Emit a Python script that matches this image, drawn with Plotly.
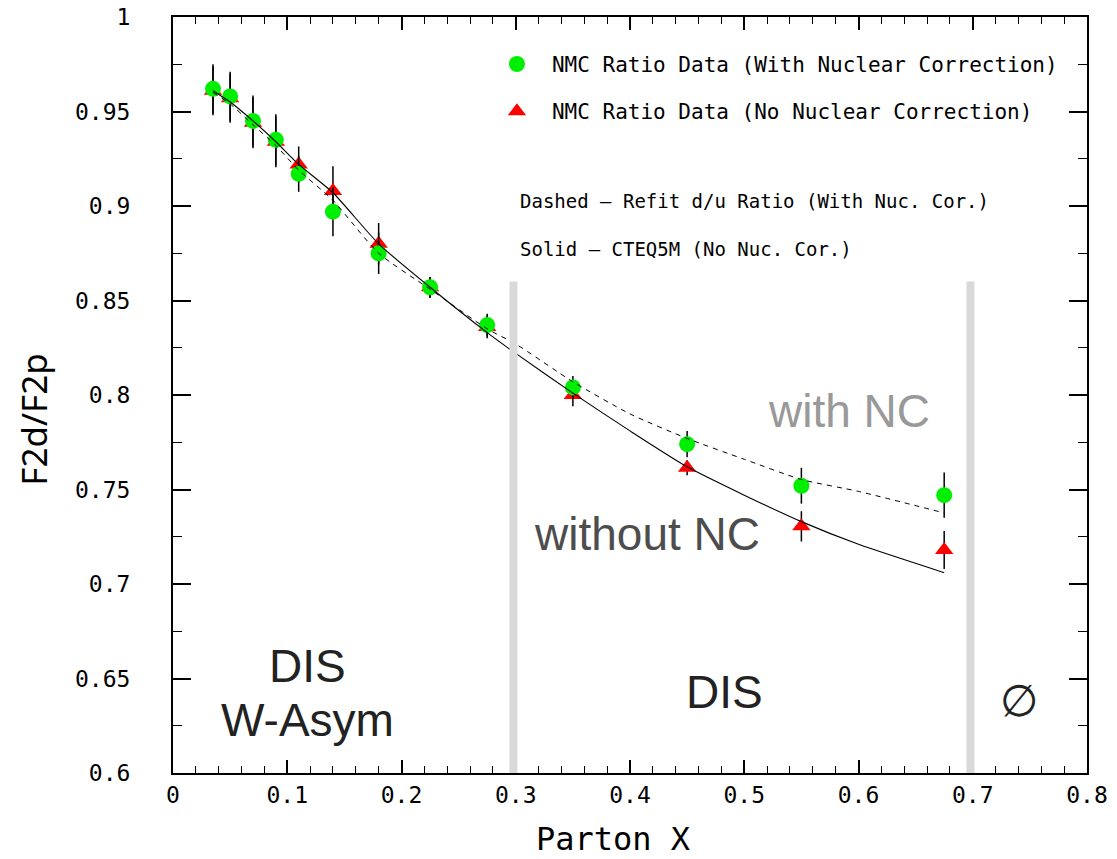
import plotly.graph_objects as go

# NMC F2d/F2p ratio measurements
x_data = [0.035, 0.05, 0.07, 0.09, 0.11, 0.14, 0.18, 0.225, 0.275, 0.35, 0.45, 0.55, 0.675]
ratio_with_nc = [0.962, 0.958, 0.945, 0.935, 0.917, 0.897, 0.875, 0.857, 0.837, 0.804, 0.774, 0.752, 0.747]
err_with_nc = [0.013, 0.013, 0.0135, 0.0135, 0.0095, 0.013, 0.011, 0.0055, 0.006, 0.006, 0.007, 0.0095, 0.012]
ratio_no_nc = [0.961, 0.957, 0.944, 0.934, 0.922, 0.908, 0.880, 0.857, 0.836, 0.800, 0.7615, 0.7305, 0.718]
err_no_nc = [0.013, 0.013, 0.0135, 0.0135, 0.0095, 0.013, 0.011, 0.0055, 0.006, 0.006, 0.004, 0.008, 0.010]

# Theory curves
x_curve = [0.035, 0.05, 0.07, 0.09, 0.11, 0.14, 0.18, 0.225, 0.275, 0.30, 0.35, 0.40, 0.45, 0.50, 0.55, 0.60, 0.675]
refit_du = [0.960, 0.954, 0.943, 0.932, 0.919, 0.903, 0.875, 0.856, 0.835, 0.827, 0.807, 0.790, 0.777, 0.766, 0.7553, 0.749, 0.7376]
cteq5m = [0.961, 0.955, 0.945, 0.934, 0.922, 0.907, 0.880, 0.857, 0.833, 0.822, 0.801, 0.781, 0.762, 0.747, 0.733, 0.721, 0.706]

# Kinematic region boundaries
region_edges = [0.298, 0.698]
region_top = 0.86

x_ticks = [0, 0.1, 0.2, 0.3, 0.4, 0.5, 0.6, 0.7, 0.8]
x_ticklabels = ["0", "0.1", "0.2", "0.3", "0.4", "0.5", "0.6", "0.7", "0.8"]
x_minor = [round(i * 0.02, 3) for i in range(41)]
y_ticks = [0.6, 0.65, 0.7, 0.75, 0.8, 0.85, 0.9, 0.95, 1.0]
y_ticklabels = ["0.6", "0.65", "0.7", "0.75", "0.8", "0.85", "0.9", "0.95", "1"]
y_minor = [round(0.6 + i * 0.025, 4) for i in range(17)]

GREEN = "#00ee00"
RED = "#ff0000"
MONO = "DejaVu Sans Mono"
BIG_FONT = "Liberation Sans, Arial, sans-serif"

fig = go.Figure()

# Data points (triangles underneath, circles on top)
fig.add_trace(go.Scatter(
    x=x_data, y=ratio_no_nc, mode="markers", showlegend=False,
    marker=dict(symbol="triangle-up", size=16, color=RED, line=dict(width=0)),
    error_y=dict(type="data", array=err_no_nc, color="black", thickness=1.5, width=0),
))
fig.add_trace(go.Scatter(
    x=x_data, y=ratio_with_nc, mode="markers", showlegend=False,
    marker=dict(symbol="circle", size=16, color=GREEN, line=dict(width=0)),
    error_y=dict(type="data", array=err_with_nc, color="black", thickness=1.5, width=0),
))

# Curves
fig.add_trace(go.Scatter(
    x=x_curve, y=refit_du, mode="lines", showlegend=False,
    line=dict(color="black", width=1, dash="5px,5px", shape="spline", smoothing=0.6),
))
fig.add_trace(go.Scatter(
    x=x_curve, y=cteq5m, mode="lines", showlegend=False,
    line=dict(color="black", width=1.1, shape="spline", smoothing=0.6),
))

# Legend entries
fig.add_trace(go.Scatter(
    x=[None], y=[None], mode="markers", name="NMC Ratio Data (With Nuclear Correction)",
    legendgroup="a", marker=dict(symbol="circle", size=16, color=GREEN),
))
fig.add_trace(go.Scatter(
    x=[None], y=[None], mode="markers", name="NMC Ratio Data (No Nuclear Correction)",
    legendgroup="b", marker=dict(symbol="triangle-up", size=16, color=RED),
))

# Region separators
half_w = 0.0035
for xe in region_edges:
    fig.add_shape(type="rect", xref="x", yref="y",
                  x0=xe - half_w, x1=xe + half_w, y0=0.6, y1=region_top,
                  fillcolor="#d9d9d9", line=dict(width=0), layer="above")

annotations = [
    dict(x=0.302, y=0.9029, text="Dashed – Refit d/u Ratio (With Nuc. Cor.)",
         xanchor="left", yanchor="middle", font=dict(family=MONO, size=19, color="black")),
    dict(x=0.302, y=0.8775, text="Solid – CTEQ5M (No Nuc. Cor.)",
         xanchor="left", yanchor="middle", font=dict(family=MONO, size=19, color="black")),
    dict(x=0.592, y=0.7913, text="with NC", xanchor="center", yanchor="middle",
         font=dict(family=BIG_FONT, size=46, color="#999999")),
    dict(x=0.4153, y=0.7262, text="without NC", xanchor="center", yanchor="middle",
         font=dict(family=BIG_FONT, size=46, color="#4d4d4d")),
    dict(x=0.118, y=0.6566, text="DIS", xanchor="center", yanchor="middle",
         font=dict(family=BIG_FONT, size=46, color="#222222")),
    dict(x=0.118, y=0.628, text="W-Asym", xanchor="center", yanchor="middle",
         font=dict(family=BIG_FONT, size=46, color="#222222")),
    dict(x=0.483, y=0.643, text="DIS", xanchor="center", yanchor="middle",
         font=dict(family=BIG_FONT, size=46, color="#222222")),
    dict(x=0.7405, y=0.6383, text="∅", xanchor="center", yanchor="middle",
         font=dict(family="DejaVu Sans", size=44, color="#222222")),
    # Axis titles
    dict(xref="paper", yref="paper", x=0.4814, y=-0.0875, text="Parton X",
         xanchor="center", yanchor="middle", font=dict(family=MONO, size=32, color="black")),
    dict(xref="paper", yref="paper", x=-0.153, y=0.4675, text="F2d/F2p", textangle=-90,
         xanchor="center", yanchor="middle", font=dict(family="Noto Sans", size=35, color="black")),
]
for a in annotations:
    a.setdefault("xref", "x")
    a.setdefault("yref", "y")
    a["showarrow"] = False

fig.update_layout(
    width=1117, height=859,
    margin=dict(l=173, r=30, t=17, b=86, autoexpand=False),
    paper_bgcolor="white", plot_bgcolor="white",
    annotations=annotations,
    legend=dict(x=0.338, y=0.9645, xanchor="left", yanchor="top",
                font=dict(family=MONO, size=21, color="black"),
                bgcolor="rgba(0,0,0,0)", tracegroupgap=17, itemwidth=60),
    showlegend=True,
)

fig.update_xaxes(
    range=[0, 0.8], tickmode="array", tickvals=x_ticks, ticktext=x_ticklabels,
    ticks="inside", ticklen=13, tickwidth=1.5, tickcolor="black",
    minor=dict(tickmode="array", tickvals=x_minor, ticks="inside", ticklen=7,
               tickwidth=1.2, tickcolor="black", showgrid=False),
    showline=True, linewidth=2, linecolor="black", mirror="ticks",
    showgrid=False, zeroline=False, automargin=False,
    tickfont=dict(family=MONO, size=23, color="black"), ticklabelstandoff=0,
)
fig.update_yaxes(
    range=[0.6, 1.0], tickmode="array", tickvals=y_ticks, ticktext=y_ticklabels,
    ticks="inside", ticklen=18, tickwidth=1.5, tickcolor="black",
    minor=dict(tickmode="array", tickvals=y_minor, ticks="inside", ticklen=9,
               tickwidth=1.2, tickcolor="black", showgrid=False),
    showline=True, linewidth=2, linecolor="black", mirror="ticks",
    showgrid=False, zeroline=False, automargin=False,
    tickfont=dict(family=MONO, size=23, color="black"), ticklabelstandoff=36,
)

fig.write_html("out.html")
